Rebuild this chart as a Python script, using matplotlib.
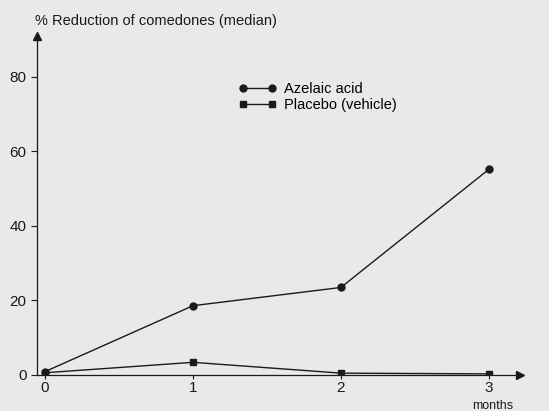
import matplotlib
matplotlib.use("Agg")
import matplotlib.pyplot as plt

months = [0, 1, 2, 3]
azelaic = [0.9, 18.6, 23.5, 55.2]
placebo = [0.6, 3.4, 0.5, 0.3]
y_ticks = [0, 20, 40, 60, 80]

plt.rcParams['font.family'] = ['Liberation Sans', 'DejaVu Sans']
bg = '#e9e9e7'
ink = '#1a1a1a'

fig = plt.figure(figsize=(5.49, 4.11), dpi=100, facecolor=bg)
ax = fig.add_axes([0.0674, 0.0876, 0.8796, 0.8248])
ax.set_facecolor(bg)

ax.plot(months, azelaic, color=ink, lw=1.0, marker='o', ms=5, label='Azelaic acid')
ax.plot(months, placebo, color=ink, lw=1.0, marker='s', ms=5, label='Placebo (vehicle)')

ax.set_xlim(-0.054, 3.21)
ax.set_ylim(0, 91)
ax.set_xticks(months)
ax.set_yticks(y_ticks)
ax.tick_params(colors=ink, labelsize=11, length=4, width=0.8)
ax.tick_params(axis='x', length=3, pad=1)
for s in ('top', 'right'):
    ax.spines[s].set_visible(False)
for s in ('left', 'bottom'):
    ax.spines[s].set_color(ink)
    ax.spines[s].set_linewidth(0.9)

# arrow heads at the axis ends
ax.plot([0], [1], marker='^', ms=6, color=ink, transform=ax.transAxes, clip_on=False)
ax.plot([1], [0], marker='>', ms=6, color=ink, transform=ax.transAxes, clip_on=False)

fig.text(0.064, 0.94, '% Reduction of comedones (median)', fontsize=10.5, color=ink)
fig.text(0.86, 0.006, 'months', fontsize=9, color=ink)

ax.legend(loc='upper left', bbox_to_anchor=(0.418, 0.865), frameon=False,
          fontsize=10.5, numpoints=2, handlelength=2.6, handletextpad=0.5,
          labelspacing=0.15, borderaxespad=0, borderpad=0)

fig.savefig('out.png', dpi=100, facecolor=bg)
